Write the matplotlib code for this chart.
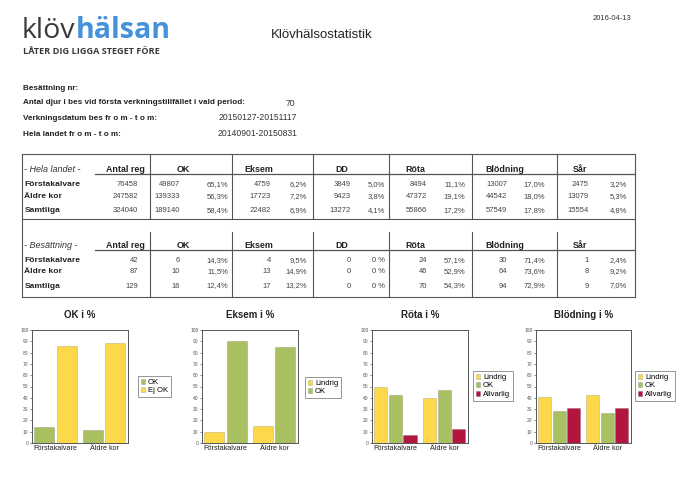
import matplotlib
matplotlib.use("Agg")
import matplotlib.pyplot as plt
from matplotlib.lines import Line2D

# ---------------- data ----------------
date_str = "2016-04-13"
title_str = "Klövhälsostatistik"
info_labels = ["Besättning nr:",
               "Antal djur i bes vid första verkningstillfället i vald period:",
               "Verkningsdatum bes fr o m - t o m:",
               "Hela landet fr o m - t o m:"]
info_values = ["", "70", "20150127-20151117", "20140901-20150831"]

row_labels = ["Förstakalvare", "Äldre kor", "Samtliga"]
measures = ["OK", "Eksem", "DD", "Röta", "Blödning", "Sår"]

land_antal = [76458, 247582, 324040]
land_counts = [[49807, 139333, 189140],
               [4759, 17723, 22482],
               [3849, 9423, 13272],
               [8494, 47372, 55866],
               [13007, 44542, 57549],
               [2475, 13079, 15554]]
land_pcts = [["65,1%", "56,3%", "58,4%"],
             ["6,2%", "7,2%", "6,9%"],
             ["5,0%", "3,8%", "4,1%"],
             ["11,1%", "19,1%", "17,2%"],
             ["17,0%", "18,0%", "17,8%"],
             ["3,2%", "5,3%", "4,8%"]]

bes_antal = [42, 87, 129]
bes_counts = [[6, 10, 16],
              [4, 13, 17],
              [0, 0, 0],
              [24, 46, 70],
              [30, 64, 94],
              [1, 8, 9]]
bes_pcts = [["14,3%", "11,5%", "12,4%"],
            ["9,5%", "14,9%", "13,2%"],
            ["0 %", "0 %", "0 %"],
            ["57,1%", "52,9%", "54,3%"],
            ["71,4%", "73,6%", "72,9%"],
            ["2,4%", "9,2%", "7,0%"]]

categories = ["Förstakalvare", "Äldre kor"]
ok_ok = [14.3, 11.5]
ok_ej = [85.7, 88.5]
eksem_lindrig = [9.5, 14.9]
eksem_ok = [90.5, 85.1]
rota_lindrig = [50.0, 40.2]
rota_ok = [42.9, 47.1]
rota_allvarlig = [7.1, 12.7]
blod_lindrig = [40.5, 42.5]
blod_ok = [28.6, 26.4]
blod_allvarlig = [31.0, 31.0]

# ---------------- style ----------------
YEL = "#FCD84A"
GRN = "#A8C060"
RED = "#B2163F"
FONT = "Liberation Sans"

W, H = 691, 497
fig = plt.figure(figsize=(W / 100, H / 100), dpi=100)
fig.patch.set_facecolor("white")


def fx(x):
    return x / W


def fy(y):
    return 1 - y / H


def txt(x, y, s, ha="left", va="center", size=6, weight="normal", style="normal",
        color="#222222", family=FONT):
    return fig.text(fx(x), fy(y), s, ha=ha, va=va, fontsize=size, fontweight=weight,
                    fontstyle=style, color=color, family=family)


def hline(x0, x1, y, lw=0.8, color="#555555"):
    fig.add_artist(Line2D([fx(x0), fx(x1)], [fy(y), fy(y)], transform=fig.transFigure,
                          lw=lw, color=color))


def vline(x, y0, y1, lw=0.8, color="#555555"):
    fig.add_artist(Line2D([fx(x), fx(x)], [fy(y0), fy(y1)], transform=fig.transFigure,
                          lw=lw, color=color))


# ---------------- header ----------------
renderer = fig.canvas.get_renderer()
t1 = txt(22, 38, "klöv", va="baseline", size=20.5, color="#3a3a3a", family="Open Sans")
bb = t1.get_window_extent(renderer)
fig.text(bb.x1 / fig.bbox.width, fy(38), "hälsan", ha="left", va="baseline", fontsize=20.5,
         fontweight="bold", color="#4591DA", family="Open Sans")
txt(23, 51, "LÅTER DIG LIGGA STEGET FÖRE", size=6.6, weight="bold", color="#3a3a3a",
    family="Open Sans")
txt(322, 35, title_str, ha="center", size=9.5, color="#222222")
txt(612, 19, date_str, ha="center", size=5.5, color="#333333")

info_y = [89, 103, 118, 134]
for lab, y in zip(info_labels, info_y):
    txt(23, y, lab, size=5.9, weight="bold", color="#222222")
for val, y, xr in zip(info_values, info_y, [0, 295, 297, 297]):
    if val:
        txt(xr, y, val, ha="right", size=6.2, color="#333333")

# ---------------- tables ----------------
LEFT, RIGHT = 22, 635
dividers = [150, 232, 313, 389, 472, 557]
head_x = [177, 244, 335, 405, 485, 573]
cnt_r = [180, 271, 351, 427, 507, 589]
pct_r = [228, 307, 385, 465, 545, 627]
VAL_SIZE = 5.5

hline(LEFT, RIGHT, 154)
hline(LEFT, RIGHT, 219)
hline(LEFT, RIGHT, 297)
vline(LEFT, 154, 297)
vline(RIGHT, 154, 297)


def block(label, y_head, y_rows, antal, counts, pcts, y_top, y_bot):
    for d in dividers:
        vline(d, y_top, y_bot)
    hline(95, RIGHT, y_head + 1.5, lw=0.9)
    txt(24.5, y_head, label, va="baseline", size=6.5, style="italic", color="#333333")
    txt(145, y_head, "Antal reg", ha="right", va="baseline", size=6.4, weight="bold")
    for m, hx in zip(measures, head_x):
        txt(hx, y_head, m, va="baseline", size=6.4, weight="bold")
    for i, (rl, y) in enumerate(zip(row_labels, y_rows)):
        txt(24.5, y, rl, size=6.1, weight="bold")
        txt(138, y, str(antal[i]), ha="right", size=VAL_SIZE, color="#444444")
        for j in range(len(measures)):
            txt(cnt_r[j], y, str(counts[j][i]), ha="right", size=VAL_SIZE, color="#444444")
            txt(pct_r[j], y, pcts[j][i], ha="right", size=VAL_SIZE, color="#444444")


block("- Hela landet -", 172, [184.5, 196.5, 211], land_antal, land_counts, land_pcts, 154, 219)
block("- Besättning -", 248, [261, 271.5, 286], bes_antal, bes_counts, bes_pcts, 232, 297)

# ---------------- charts ----------------
charts = [
    ("OK i %", 32, 128, [("OK", ok_ok, GRN), ("Ej OK", ok_ej, YEL)], (138, 376)),
    ("Eksem i %", 202, 298, [("Lindrig", eksem_lindrig, YEL), ("OK", eksem_ok, GRN)], (305, 377)),
    ("Röta i %", 372, 468, [("Lindrig", rota_lindrig, YEL), ("OK", rota_ok, GRN),
                            ("Allvarlig", rota_allvarlig, RED)], (473, 371)),
    ("Blödning i %", 536, 631, [("Lindrig", blod_lindrig, YEL), ("OK", blod_ok, GRN),
                               ("Allvarlig", blod_allvarlig, RED)], (635, 371)),
]
TOP, BOT = 330, 443

for title, x0, x1, series, leg_pos in charts:
    ax = fig.add_axes([fx(x0), fy(BOT), (x1 - x0) / W, (BOT - TOP) / H])
    n = len(series)
    if n == 2:
        width, step = 0.41, 0.46
    else:
        width, step = 0.27, 0.30
    xs = list(range(len(categories)))
    for k, (name, vals, col) in enumerate(series):
        off = (k - (n - 1) / 2) * step
        ax.bar([x + off for x in xs], vals, width=width, color=col, label=name,
               edgecolor="#00000030", linewidth=0.5)
    ax.set_xlim(-0.48, 1.49)
    ax.set_ylim(0, 100)
    ax.set_yticks(range(0, 101, 10))
    ax.set_xticks(xs)
    ax.set_xticklabels(categories, fontsize=5.2, family=FONT, color="#222222")
    ax.tick_params(axis="x", length=0, pad=1.5)
    ax.tick_params(axis="y", length=1.5, width=0.5, pad=1, labelsize=3.5,
                   colors="#555555")
    for lab in ax.get_yticklabels():
        lab.set_family(FONT)
    for sp in ax.spines.values():
        sp.set_linewidth(0.7)
        sp.set_color("#555555")
    cx = (x0 + x1) / 2
    fig.text(fx(cx), fy(315), title, ha="center", va="center", fontsize=7,
             fontweight="bold", family=FONT, color="#222222")
    leg = ax.legend(loc="upper left", bbox_to_anchor=(fx(leg_pos[0]), fy(leg_pos[1])),
                    bbox_transform=fig.transFigure, prop={"family": FONT, "size": 5.5},
                    frameon=True, fancybox=False, borderpad=0.35, labelspacing=0.2,
                    handlelength=0.6, handleheight=0.6, handletextpad=0.35,
                    borderaxespad=0)
    leg.get_frame().set_edgecolor("#666666")
    leg.get_frame().set_linewidth(0.6)

fig.savefig("out.png", dpi=100, facecolor="white")
